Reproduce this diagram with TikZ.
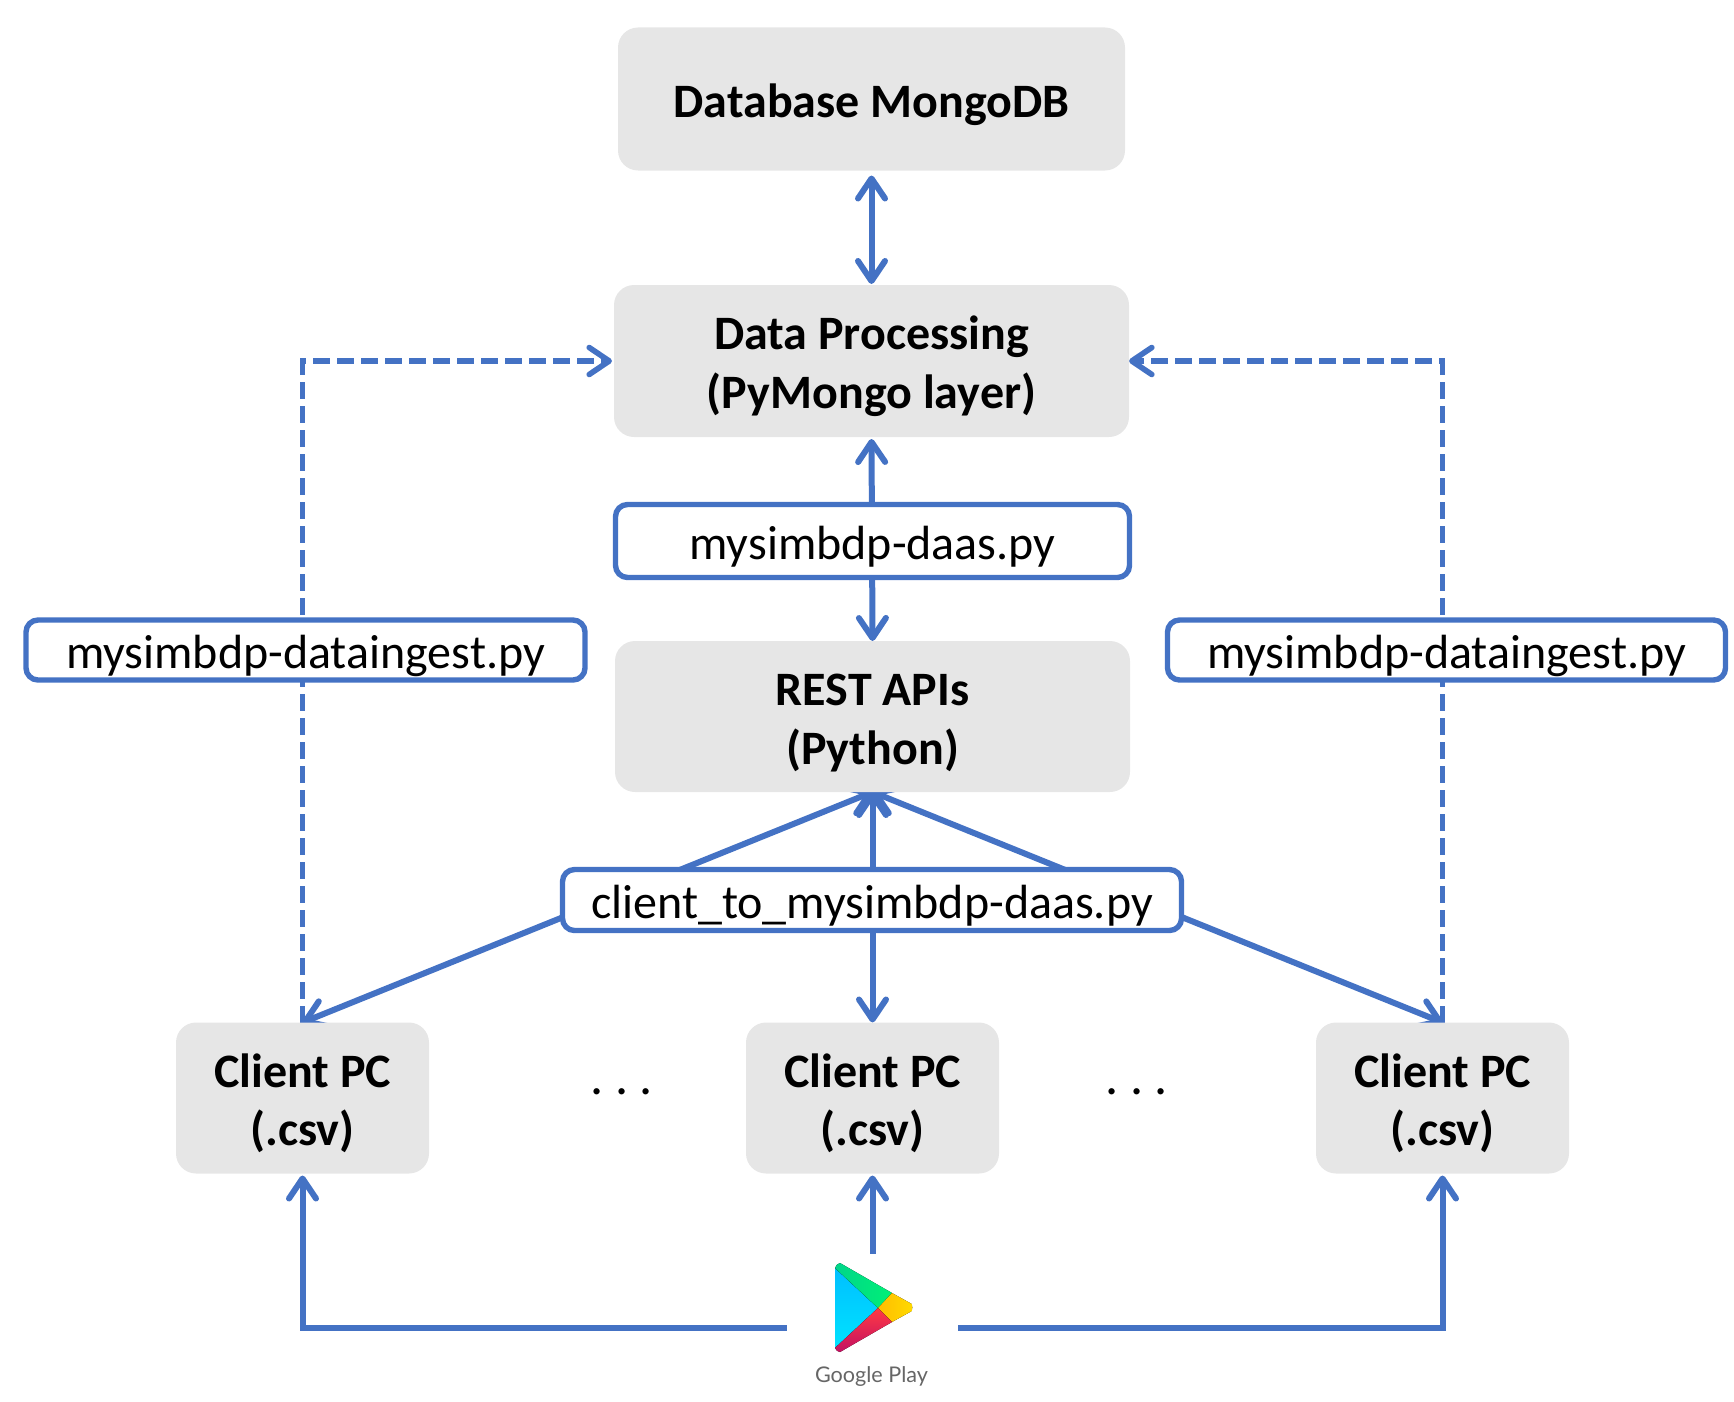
\documentclass[tikz,border=0pt]{standalone}
\usepackage{fontspec}
\setmainfont{Carlito}
\newfontfamily\playfont{Lato}
\usetikzlibrary{arrows.meta,backgrounds}
\definecolor{linkblue}{HTML}{4472C4}
\definecolor{boxgray}{HTML}{E6E6E6}
\definecolor{playcyanA}{HTML}{00BFFF}
\definecolor{playcyanB}{HTML}{00E3FF}
\definecolor{playgreenA}{HTML}{00D58A}
\definecolor{playgreenB}{HTML}{00F076}
\definecolor{playyellowA}{HTML}{FFBD00}
\definecolor{playyellowB}{HTML}{FFDA00}
\definecolor{playredA}{HTML}{FF3A44}
\definecolor{playredB}{HTML}{C31162}
\newcommand{\liftline}{\rule{0pt}{22pt}}
\tikzset{
	oneline/.style={execute at begin node={\rule{0pt}{22.5pt}}},
	graybox/.style={fill=boxgray,rounded corners=10pt,inner sep=0pt,outer sep=0pt,align=center,font=\fontsize{24}{29.3}\selectfont\bfseries},
	scriptbox/.style={oneline,draw=linkblue,fill=white,line width=2.7pt,rounded corners=6pt,inner sep=0pt,outer sep=0pt,font=\fontsize{24}{29}\selectfont},
	link/.style={draw=linkblue,line width=3pt,{Straight Barb[length=10pt,width=13.5pt,round]}-{Straight Barb[length=10pt,width=13.5pt,round]}},
	linkto/.style={draw=linkblue,line width=3pt,-{Straight Barb[length=10pt,width=13.5pt,round]}},
	dashlink/.style={linkto,line width=2.8pt,dash pattern=on 8.5pt off 3.5pt}
}
\begin{document}
\begin{tikzpicture}[x=0.5pt,y=-0.5pt]
\useasboundingbox (0,0) rectangle (1734,1402);

\node [graybox,oneline,minimum width=253.5pt,minimum height=71.5pt] (db) at (871.5,99) {Database MongoDB};
\node [graybox,minimum width=257.5pt,minimum height=76pt] (dp) at (871.5,361) {\liftline Data Processing\\(PyMongo layer)};
\node [graybox,minimum width=257.5pt,minimum height=75.5pt] (rest) at (872.5,716.5) {\liftline REST APIs\\(Python)};

\node [graybox,minimum width=126.5pt,minimum height=75.5pt] (clientL) at (302.5,1098) {\liftline Client PC\\(.csv)};
\node [graybox,minimum width=126.5pt,minimum height=75.5pt] (clientM) at (872.5,1098) {\liftline Client PC\\(.csv)};
\node [graybox,minimum width=126.5pt,minimum height=75.5pt] (clientR) at (1442.5,1098) {\liftline Client PC\\(.csv)};

\node [scriptbox,minimum width=257pt,minimum height=36.5pt] (daas) at (872.5,541) {mysimbdp-daas.py};
\node [scriptbox,minimum width=279.5pt,minimum height=30pt] (ingestL) at (305.5,650) {mysimbdp-dataingest.py};
\node [scriptbox,minimum width=279pt,minimum height=30pt] (ingestR) at (1446.5,650) {mysimbdp-dataingest.py};
\node [scriptbox,minimum width=309.5pt,minimum height=30.5pt] (toclient) at (872,900) {client\_to\_mysimbdp-daas.py};

\node [font=\fontsize{26}{30}\selectfont,inner sep=0pt] (dotsL) at (622,1092) {.\hspace{0.22em}.\hspace{0.22em}.};
\node [font=\fontsize{26}{30}\selectfont,inner sep=0pt] (dotsR) at (1137,1092) {.\hspace{0.22em}.\hspace{0.22em}.};

% play icon
\fill [top color=playcyanA,bottom color=playcyanB] (835,1268) -- (878,1308) -- (835,1348) -- cycle;
\fill [left color=playgreenA,right color=playgreenB] (835,1268) to[out=60,in=180] (840,1263) -- (892,1293) -- (878,1308) -- cycle;
\fill [left color=playyellowA,right color=playyellowB] (892,1293) -- (910,1303) to[out=30,in=-30] (910,1312) -- (892,1322) -- (878,1308) -- cycle;
\fill [top color=playredA,bottom color=playredB] (878,1308) -- (892,1322) -- (840,1352) to[out=180,in=-60] (835,1348) -- cycle;
\node [inner sep=0pt,minimum width=85.5pt,minimum height=74pt] (play) at (872.5,1328) {};
\node [font=\playfont\fontsize{10.8}{13}\selectfont,text=black!60,inner sep=0pt] (playname) at (871.5,1376) {Google Play};

\begin{scope}[on background layer]
\draw [link,shorten <=2.5pt,shorten >=0.5pt] (db.south) -- (dp.north);
\draw [link,shorten <=1pt] (dp.south) -- (rest.north);
\draw [link] (rest.south) -- (clientL.north);
\draw [link] (rest.south) -- (clientM.north);
\draw [link] (rest.south) -- (clientR.north);
\draw [dashlink,shorten >=1pt] (clientL.north) |- (dp.west);
\draw [dashlink,shorten >=0pt] (clientR.north) |- (dp.east);
\draw [linkto,shorten >=1pt] (play.west) -| (clientL.south);
\draw [linkto,shorten >=1pt] (play.north) -- (clientM.south);
\draw [linkto,shorten >=1pt] (play.east) -| (clientR.south);
\end{scope}
\end{tikzpicture}
\end{document}
